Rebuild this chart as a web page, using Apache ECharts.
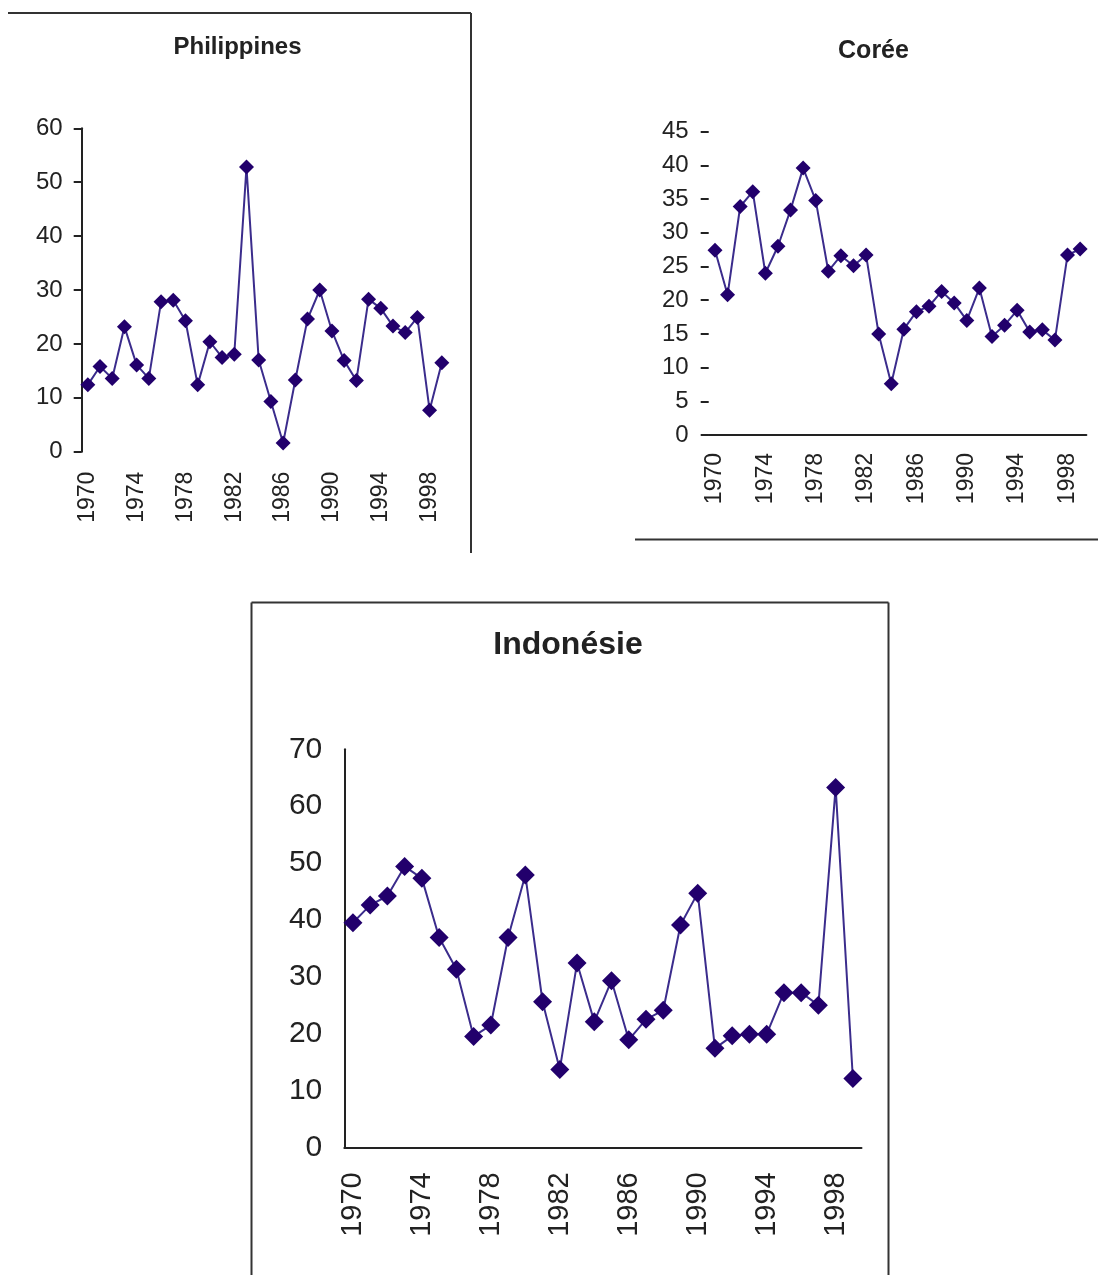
<!DOCTYPE html>
<html>
<head>
<meta charset="utf-8">
<script src="https://cdn.jsdelivr.net/npm/echarts@6/dist/echarts.min.js"></script>
<style>
  html, body { margin: 0; padding: 0; background: #fff; }
  #chart { width: 1098px; height: 1275px; }
</style>
</head>
<body>
<div id="chart"></div>
<script>
// Years on the category axis
const years = ['1970','1971','1972','1973','1974','1975','1976','1977','1978','1979',
               '1980','1981','1982','1983','1984','1985','1986','1987','1988','1989',
               '1990','1991','1992','1993','1994','1995','1996','1997','1998','1999'];

// Series per country
const philippines = [12.4, 15.8, 13.6, 23.2, 16.1, 13.6, 27.8, 28.1, 24.3, 12.4,
                     20.4, 17.5, 18.1, 52.8, 17.0, 9.3, 1.6, 13.3, 24.6, 30.0,
                     22.4, 16.9, 13.2, 28.3, 26.6, 23.3, 22.1, 24.9, 7.7, 16.5];
const coree = [27.4, 20.8, 33.9, 36.1, 24.0, 28.0, 33.4, 39.6, 34.8, 24.3,
               26.6, 25.1, 26.7, 15.0, 7.6, 15.7, 18.3, 19.1, 21.3, 19.6,
               17.0, 21.8, 14.6, 16.3, 18.5, 15.3, 15.6, 14.1, 26.7, 27.6];
const indonesie = [39.5, 42.6, 44.2, 49.4, 47.3, 36.9, 31.3, 19.5, 21.5, 36.9,
                   47.9, 25.6, 13.7, 32.4, 22.1, 29.3, 18.9, 22.5, 24.1, 39.1,
                   44.7, 17.4, 19.6, 19.9, 19.9, 27.2, 27.2, 25.0, 63.3, 12.1];

// Panel titles
const titles = ['Philippines', 'Corée', 'Indonésie'];

const FONT = '"Liberation Sans", Arial, sans-serif';
const TEXT = '#222';
const AXIS = '#222';
const LINE = '#3b2c8c';
const MARK = '#22006c';

const chart = echarts.init(document.getElementById('chart'), null, { renderer: 'canvas' });

function xAxisCfg(gridIndex, showLine, fontSize, margin) {
  return {
    type: 'category', gridIndex, data: years, boundaryGap: true,
    axisLine: { show: showLine, lineStyle: { color: AXIS, width: 2 } },
    axisTick: { show: false },
    axisLabel: { rotate: 90, interval: 3, margin, color: TEXT, fontSize, fontFamily: FONT },
    splitLine: { show: false }
  };
}
function yAxisCfg(gridIndex, max, interval, showLine, showTick, fontSize, margin) {
  return {
    type: 'value', gridIndex, min: 0, max, interval,
    axisLine: { show: showLine, lineStyle: { color: AXIS, width: 2 } },
    axisTick: { show: showTick, length: 8, lineStyle: { color: AXIS, width: 2 } },
    axisLabel: { margin, color: TEXT, fontSize, fontFamily: FONT },
    splitLine: { show: false }
  };
}
function seriesCfg(idx, data, size) {
  return {
    type: 'line', xAxisIndex: idx, yAxisIndex: idx, data,
    symbol: 'diamond', symbolSize: size, showAllSymbol: true,
    itemStyle: { color: MARK },
    lineStyle: { color: LINE, width: 2 },
    emphasis: { disabled: true }
  };
}
function frameLine(x1, y1, x2, y2) {
  return { type: 'line', shape: { x1, y1, x2, y2 }, style: { stroke: '#333', lineWidth: 2 }, silent: true };
}
function titleText(text, x, y, size) {
  return {
    type: 'text', x, y,
    style: { text, fill: TEXT, font: 'bold ' + size + 'px ' + FONT, textAlign: 'center', textVerticalAlign: 'middle' }
  };
}

chart.setOption({
  animation: false,
  backgroundColor: '#fff',
  grid: [
    { left: 81.7, top: 128.3, width: 366.2, height: 323.4 },
    { left: 708.7, top: 131.7, width: 377.7, height: 303.3 },
    { left: 344.3, top: 749.3, width: 517.2, height: 398 }
  ],
  xAxis: [
    xAxisCfg(0, false, 23, 20),
    xAxisCfg(1, true, 23, 18),
    xAxisCfg(2, true, 29, 25)
  ],
  yAxis: [
    yAxisCfg(0, 60, 10, true, true, 24, 19),
    yAxisCfg(1, 45, 5, false, true, 24, 20),
    yAxisCfg(2, 70, 10, true, false, 30, 22)
  ],
  series: [
    seriesCfg(0, philippines, 15),
    seriesCfg(1, coree, 15),
    seriesCfg(2, indonesie, 19)
  ],
  graphic: [
    // panel frames
    frameLine(8, 13, 471, 13),
    frameLine(471, 13, 471, 553),
    frameLine(635, 539.5, 1098, 539.5),
    frameLine(251.5, 602.5, 888.5, 602.5),
    frameLine(251.5, 602.5, 251.5, 1275),
    frameLine(888.5, 602.5, 888.5, 1275),
    // titles
    titleText(titles[0], 237.5, 47, 24),
    titleText(titles[1], 873.5, 51, 25),
    titleText(titles[2], 568, 645, 32)
  ]
});
</script>
</body>
</html>
